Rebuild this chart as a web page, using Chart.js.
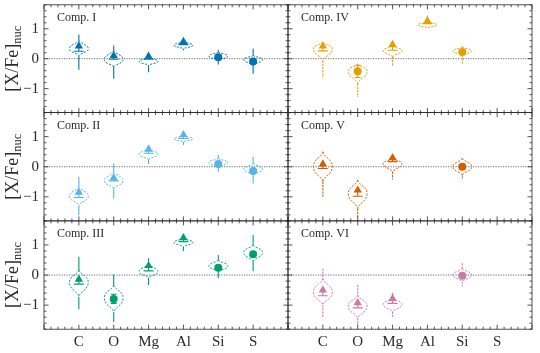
<!DOCTYPE html>
<html><head><meta charset="utf-8">
<script src="https://cdn.jsdelivr.net/npm/chart.js@4.4.1/dist/chart.umd.min.js"></script>
<style>
html,body{margin:0;padding:0;background:#fff;}
#wrap{position:relative;width:540px;height:353px;overflow:hidden;background:#fff;}
#wrap canvas{position:absolute;left:0;top:0;}
</style></head><body><div id="wrap">
<canvas id="p0"></canvas><canvas id="p1"></canvas><canvas id="p2"></canvas>
<canvas id="p3"></canvas><canvas id="p4"></canvas><canvas id="p5"></canvas>
</div>
<script>
// ---------------- data ----------------
const elements = ['C', 'O', 'Mg', 'Al', 'Si', 'S'];
const compNames = ['Comp. I', 'Comp. II', 'Comp. III', 'Comp. IV', 'Comp. V', 'Comp. VI'];
const compColors = ['#0072B2', '#56B4E9', '#009E73', '#E69F00', '#D55E00', '#CC79A7'];
const yTickValues = [-1, 0, 1];
const yTickLabels = ['\u22121', '0', '1'];
const yLabelMain = '[X/Fe]';
const yLabelSub = 'nuc';

// marker value per component (rows) and element (columns)
const markerVal = [
  [0.42, 0.10, 0.08, 0.57, 0.05, -0.09],
  [-0.85, -0.37, 0.58, 1.06, 0.09, -0.14],
  [-0.14, -0.80, 0.31, 1.24, 0.24, 0.69],
  [0.42, -0.42, 0.47, 1.26, 0.22, null],
  [0.09, -0.78, 0.30, null, 0.00, null],
  [-0.50, -0.92, -0.78, null, -0.02, null]
];
// 't' = triangle, 'c' = circle
const markerShape = [
  ['t', 't', 't', 't', 'c', 'c'],
  ['t', 't', 't', 't', 'c', 'c'],
  ['t', 'c', 't', 't', 'c', 'c'],
  ['t', 'c', 't', 't', 'c', null],
  ['t', 't', 't', null, 'c', null],
  ['t', 't', 't', null, 'c', null]
];
const errLow = [
  [0.25, -0.02, -0.02, 0.47, null, null],
  [-1.02, -0.47, 0.45, 0.94, null, null],
  [-0.30, -0.94, 0.14, 1.11, null, null],
  [0.26, -0.63, 0.28, 1.17, null, null],
  [-0.06, -0.98, 0.17, null, null, null],
  [-0.69, -1.09, -0.94, null, null, null]
];
const errHigh = [
  [null, null, null, null, null, null],
  [null, null, null, null, null, null],
  [null, -0.64, null, null, null, null],
  [null, -0.22, null, null, null, null],
  [null, null, null, null, null, null],
  [null, null, null, null, null, null]
];
const violinTop = [
  [0.61, 0.28, 0.05, 0.57, 0.22, 0.11],
  [-0.67, -0.17, 0.60, 1.03, 0.28, 0.11],
  [0.17, -0.33, 0.36, 1.22, 0.50, 1.00],
  [0.56, -0.17, 0.42, 1.22, 0.39, null],
  [0.50, -0.44, 0.28, null, 0.28, null],
  [-0.11, -0.67, -0.76, null, 0.22, null]
];
const violinMode = [
  [0.33, -0.03, -0.09, 0.45, 0.09, -0.03],
  [-0.98, -0.47, 0.42, 0.93, 0.14, -0.08],
  [-0.24, -0.76, 0.11, 1.09, 0.30, 0.76],
  [0.33, -0.41, 0.28, 1.13, 0.26, null],
  [0.00, -0.89, 0.11, null, 0.00, null],
  [-0.58, -1.03, -0.97, null, 0.00, null]
];
const violinBottom = [
  [0.10, -0.28, -0.22, 0.33, -0.06, -0.22],
  [-1.28, -0.72, 0.24, 0.83, -0.02, -0.28],
  [-0.72, -1.24, -0.09, 0.94, 0.11, 0.44],
  [-0.06, -0.83, 0.06, 1.03, 0.11, null],
  [-0.50, -1.39, -0.17, null, -0.28, null],
  [-1.00, -1.44, -1.22, null, -0.22, null]
];
const whiskerTop = [
  [0.81, 0.44, 0.17, 0.67, 0.30, 0.33],
  [-0.33, 0.11, 0.72, 1.17, 0.39, 0.33],
  [0.61, 0.02, 0.56, 1.36, 0.67, 1.33],
  [0.56, -0.17, 0.52, 1.44, 0.41, null],
  [0.50, -0.44, 0.28, null, 0.28, null],
  [0.22, -0.33, -0.59, null, 0.39, null]
];
const whiskerBottom = [
  [-0.37, -0.67, -0.45, 0.28, -0.19, -0.50],
  [-1.61, -1.06, 0.09, 0.72, -0.17, -0.56],
  [-1.14, -1.56, -0.33, 0.80, -0.11, 0.13],
  [-0.63, -1.28, -0.24, 1.03, -0.17, null],
  [-1.02, -1.67, -0.42, null, -0.41, null],
  [-1.42, -1.67, -1.39, null, -0.37, null]
];

// ---------------- layout / style ----------------
const W = 540, H = 353;
const colLeft = [44, 288];
const panelW = 244;
const rowTop = [4.3, 112.6, 220.9];
const panelH = 108.3;
const yAxisW = 44;
const xLabelH = 24;
const FONT = "'Liberation Serif', 'DejaVu Serif', serif";
const INK = '#2a2a2a';
const violinHalfW = 0.27; // in x units

function zeroPad(s) { s.paddingTop = 0; s.paddingBottom = 0; s.paddingLeft = 0; s.paddingRight = 0; }

function violinPath(ctx, cx, yT, yM, yB, w, side) {
  ctx.moveTo(cx, yT);
  ctx.bezierCurveTo(cx + side * w * 0.12, yT + (yM - yT) * 0.4,
                    cx + side * w, yM - (yM - yT) * 0.55,
                    cx + side * w, yM);
  ctx.bezierCurveTo(cx + side * w, yM + (yB - yM) * 0.55,
                    cx + side * w * 0.12, yB - (yB - yM) * 0.4,
                    cx, yB);
}

const decoPlugin = {
  id: 'deco',
  beforeDatasetsDraw(chart) {
    const p = chart.options.plugins.deco.idx;
    const col = p < 3 ? 0 : 1;
    const color = compColors[p];
    const xs = chart.scales.x, ys = chart.scales.y;
    const ctx = chart.ctx;
    const a = chart.chartArea;
    ctx.save();
    ctx.beginPath(); ctx.rect(a.left, a.top, a.right - a.left, a.bottom - a.top); ctx.clip();
    // zero line
    ctx.strokeStyle = '#444'; ctx.lineWidth = 0.8; ctx.setLineDash([1.2, 1.3]);
    ctx.beginPath(); ctx.moveTo(a.left, ys.getPixelForValue(0)); ctx.lineTo(a.right, ys.getPixelForValue(0)); ctx.stroke();
    for (let i = 0; i < elements.length; i++) {
      if (violinTop[p][i] === null) continue;
      const cx = xs.getPixelForValue(i + 1);
      const w = xs.getPixelForValue(1 + violinHalfW) - xs.getPixelForValue(1);
      const yT = ys.getPixelForValue(violinTop[p][i]);
      const yM = ys.getPixelForValue(violinMode[p][i]);
      const yB = ys.getPixelForValue(violinBottom[p][i]);
      // whiskers (tails) outside body
      ctx.setLineDash(col === 1 ? [2.2, 1] : []); ctx.strokeStyle = color; ctx.lineWidth = 1.1;
      const wT = ys.getPixelForValue(whiskerTop[p][i]);
      const wB = ys.getPixelForValue(whiskerBottom[p][i]);
      ctx.beginPath();
      if (wT < yT) { ctx.moveTo(cx, wT); ctx.lineTo(cx, yT); }
      if (wB > yB) { ctx.moveTo(cx, yB); ctx.lineTo(cx, wB); }
      ctx.stroke();
      // body
      ctx.setLineDash([2, 1.4]); ctx.lineWidth = 0.95;
      ctx.beginPath();
      violinPath(ctx, cx, yT, yM, yB, w, 1);
      violinPath(ctx, cx, yT, yM, yB, w, -1);
      ctx.stroke();
      // error bars
      ctx.setLineDash([]); ctx.lineWidth = 1.1;
      const mv = markerVal[p][i];
      if (mv !== null) {
        const ym = ys.getPixelForValue(mv);
        if (errLow[p][i] !== null) {
          const yl = ys.getPixelForValue(errLow[p][i]);
          const cap = markerShape[p][i] === 't' ? 5 : 3;
          ctx.beginPath(); ctx.moveTo(cx, ym); ctx.lineTo(cx, yl);
          ctx.moveTo(cx - cap, yl); ctx.lineTo(cx + cap, yl); ctx.stroke();
        }
        if (errHigh[p][i] !== null) {
          const yh = ys.getPixelForValue(errHigh[p][i]);
          ctx.beginPath(); ctx.moveTo(cx, ym); ctx.lineTo(cx, yh);
          ctx.moveTo(cx - 3, yh); ctx.lineTo(cx + 3, yh); ctx.stroke();
        }
      }
    }
    ctx.restore();
  },
  afterDraw(chart) {
    const p = chart.options.plugins.deco.idx;
    const col = p < 3 ? 0 : 1;
    const xs = chart.scales.x, ys = chart.scales.y;
    const ctx = chart.ctx;
    const a = chart.chartArea;
    ctx.save();
    ctx.strokeStyle = INK; ctx.lineWidth = 0.8; ctx.setLineDash([]);
    ctx.strokeRect(a.left, a.top, a.right - a.left, a.bottom - a.top);
    ctx.beginPath();
    for (let k = 0; k <= 35; k++) {
      const x = xs.getPixelForValue(k / 5);
      const len = k % 5 === 0 ? 4.5 : 2.5;
      ctx.moveTo(x, a.bottom); ctx.lineTo(x, a.bottom - len);
      ctx.moveTo(x, a.top); ctx.lineTo(x, a.top + len);
    }
    for (let k = -9; k <= 9; k++) {
      const y = ys.getPixelForValue(k / 5);
      const len = k % 5 === 0 ? 4.5 : 2.5;
      ctx.moveTo(a.left, y); ctx.lineTo(a.left + len, y);
      ctx.moveTo(a.right, y); ctx.lineTo(a.right - len, y);
    }
    ctx.stroke();
    // component label
    ctx.fillStyle = INK; ctx.font = '12px ' + FONT;
    ctx.textBaseline = 'alphabetic'; ctx.textAlign = 'left';
    ctx.fillText(compNames[p], a.left + 13, a.top + 16.5);
    // y axis label
    if (col === 0) {
      const cy = (a.top + a.bottom) / 2;
      ctx.translate(17.5, cy);
      ctx.rotate(-Math.PI / 2);
      ctx.font = '18px ' + FONT;
      const w1 = ctx.measureText(yLabelMain).width;
      ctx.font = '12.5px ' + FONT;
      const w2 = ctx.measureText(yLabelSub).width;
      const x0 = -(w1 + w2) / 2;
      ctx.font = '18px ' + FONT;
      ctx.fillText(yLabelMain, x0, 0);
      ctx.font = '12.5px ' + FONT;
      ctx.fillText(yLabelSub, x0 + w1, 3);
    }
    ctx.restore();
  }
};

for (let p = 0; p < 6; p++) {
  const col = p < 3 ? 0 : 1;
  const row = p % 3;
  const left = colLeft[col];
  const top = rowTop[row];
  const tri = [], circ = [];
  for (let i = 0; i < elements.length; i++) {
    if (markerVal[p][i] === null) continue;
    const pt = { x: i + 1, y: markerVal[p][i] };
    if (markerShape[p][i] === 't') tri.push(pt); else circ.push(pt);
  }
  const cv = document.getElementById('p' + p);
  cv.width = W; cv.height = H;
  new Chart(cv, {
    type: 'scatter',
    data: {
      datasets: [
        { data: tri, pointStyle: 'triangle', pointRadius: 4.8, backgroundColor: compColors[p], borderColor: compColors[p], borderWidth: 0 },
        { data: circ, pointStyle: 'circle', pointRadius: 4, backgroundColor: compColors[p], borderColor: compColors[p], borderWidth: 0 }
      ]
    },
    options: {
      responsive: false, animation: false, devicePixelRatio: 1,
      layout: { padding: {
        left: col === 0 ? 0 : left,
        right: W - (left + panelW),
        top: top,
        bottom: H - (top + panelH) - (row === 2 ? xLabelH : 0)
      } },
      plugins: { legend: { display: false }, tooltip: { enabled: false }, deco: { idx: p } },
      scales: {
        x: {
          type: 'linear', min: 0, max: 7,
          grid: { display: false, drawTicks: false }, border: { display: false },
          afterFit: s => { s.height = row === 2 ? xLabelH : 0; zeroPad(s); },
          ticks: {
            display: row === 2, stepSize: 1, autoSkip: false, maxRotation: 0, padding: 4,
            color: INK, font: { family: FONT, size: 15 },
            callback: v => (Number.isInteger(v) && v >= 1 && v <= elements.length) ? elements[v - 1] : ''
          }
        },
        y: {
          type: 'linear', min: -1.8, max: 1.8,
          grid: { display: false, drawTicks: false }, border: { display: false },
          afterFit: s => { s.width = col === 0 ? yAxisW : 0; zeroPad(s); },
          ticks: {
            display: col === 0, stepSize: 1, includeBounds: false, padding: 5,
            color: INK, font: { family: FONT, size: 15 },
            callback: v => { const k = yTickValues.indexOf(v); return k >= 0 ? yTickLabels[k] : ''; }
          }
        }
      }
    },
    plugins: [decoPlugin]
  });
}
</script></body></html>
